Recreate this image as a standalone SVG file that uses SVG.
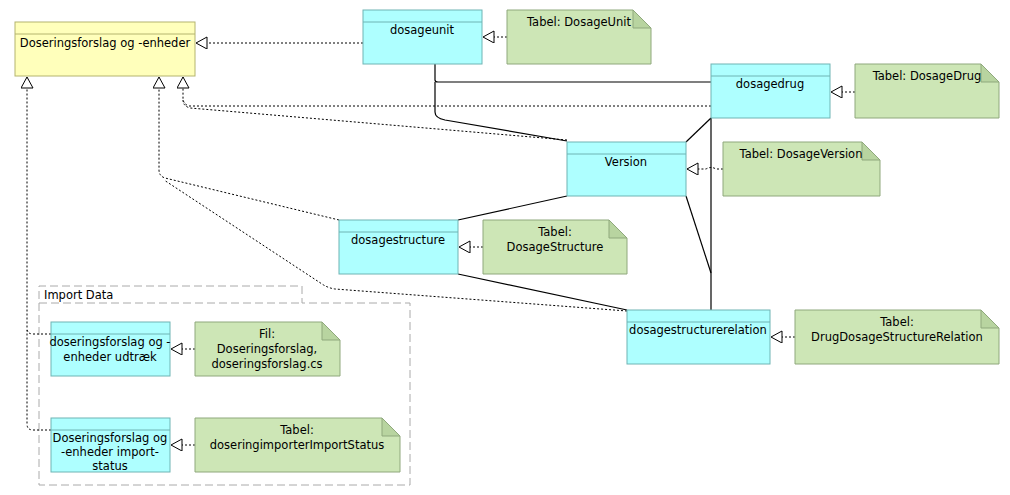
<svg xmlns="http://www.w3.org/2000/svg" width="1010" height="495" viewBox="0 0 1010 495">
<style>
text{font-family:"DejaVu Sans","Noto Sans",sans-serif;font-size:11.5px;fill:#000;text-anchor:middle}
.cls{fill:#aeffff;stroke:#6fb4b4;stroke-width:1}
.main{fill:#ffffbb;stroke:#b4b46e;stroke-width:1}
.note{fill:#cde6b6;stroke:#8fa87c;stroke-width:1}
.fold{fill:#b8d4a0;stroke:#8fa87c;stroke-width:1}
.d{fill:none;stroke:#000;stroke-dasharray:2,2;stroke-width:1}
.s{fill:none;stroke:#000;stroke-width:1.2}
</style>
<defs>
<marker id="tri" markerWidth="14" markerHeight="14" refX="12" refY="6" orient="auto" markerUnits="userSpaceOnUse">
<path d="M1,0 L12,6 L1,12 Z" fill="#fff" stroke="#000"/>
</marker>
</defs>
<rect width="1010" height="495" fill="#fff"/>
<g id="pkg">
<path d="M39,303 V485 H410 V303 H302 V286 H39 Z" fill="none" stroke="#aaa" stroke-dasharray="8,4"/>
<line x1="39" y1="303" x2="302" y2="303" stroke="#aaa" stroke-dasharray="8,4"/>
<text x="44" y="299" style="text-anchor:start">Import Data</text>
</g>
<g id="connectors">
<path class="d" d="M363,43 H196" marker-end="url(#tri)"/>
<path class="d" d="M507,37 H483" marker-end="url(#tri)"/>
<path class="d" d="M855,92 H831" marker-end="url(#tri)"/>
<path class="d" d="M723,169 H716 Q711,166 706,169 H687" marker-end="url(#tri)"/>
<path class="d" d="M483,247 H459" marker-end="url(#tri)"/>
<path class="d" d="M795,337 H771" marker-end="url(#tri)"/>
<path class="d" d="M195,349 H171" marker-end="url(#tri)"/>
<path class="d" d="M195,445 H171" marker-end="url(#tri)"/>
<path class="d" d="M711,106 H189 Q183,104 183,98 V77" marker-end="url(#tri)"/>
<path class="d" d="M567,140 L190,108 Q183,106 183,100"/>
<path class="d" d="M339,220 L165,178 Q159,176 159,170 V77" marker-end="url(#tri)"/>
<path class="d" d="M627,311 L335,289 Q328,288 322,284 L164,180"/>
<path class="d" d="M51,334 H33 Q27,334 27,328 V77" marker-end="url(#tri)"/>
<path class="d" d="M51,430 H33 Q27,430 27,424 V330"/>
<path class="s" d="M435,64 V80 Q435,82 438,82 H711"/>
<path class="s" d="M435,82 V112 Q435,118 445,120 L567,141"/>
<path class="s" d="M711,118 L686,142"/>
<path class="s" d="M711,118 V310"/>
<path class="s" d="M686,196 L711,273"/>
<path class="s" d="M458,220 L567,196"/>
<path class="s" d="M458,274 L627,310"/>
</g>
<g id="main"><rect class="main" x="15" y="22" width="180" height="54"/><line x1="15" y1="34" x2="195" y2="34" stroke="#b4b46e"/><text x="105" y="47">Doseringsforslag og -enheder</text></g>
<g id="dosageunit"><rect class="cls" x="363" y="10" width="119" height="54"/><line x1="363" y1="22" x2="482" y2="22" stroke="#6fb4b4"/><text x="422" y="34">dosageunit</text></g>
<g id="dosagedrug"><rect class="cls" x="711" y="64" width="119" height="54"/><line x1="711" y1="76" x2="830" y2="76" stroke="#6fb4b4"/><text x="770" y="88">dosagedrug</text></g>
<g id="version"><rect class="cls" x="567" y="142" width="119" height="54"/><line x1="567" y1="154" x2="686" y2="154" stroke="#6fb4b4"/><text x="626" y="166">Version</text></g>
<g id="dosagestructure"><rect class="cls" x="339" y="220" width="119" height="54"/><line x1="339" y1="232" x2="458" y2="232" stroke="#6fb4b4"/><text x="398" y="244">dosagestructure</text></g>
<g id="relation"><rect class="cls" x="627" y="310" width="143" height="54"/><line x1="627" y1="322" x2="770" y2="322" stroke="#6fb4b4"/><text x="698" y="334">dosagestructurerelation</text></g>
<g id="udtraek"><rect class="cls" x="51" y="322" width="119" height="54"/><line x1="51" y1="334" x2="170" y2="334" stroke="#6fb4b4"/><text x="110" y="346">doseringsforslag og -</text><text x="110" y="361">enheder udtræk</text></g>
<g id="importstatus"><rect class="cls" x="51" y="418" width="119" height="54"/><line x1="51" y1="430" x2="170" y2="430" stroke="#6fb4b4"/><text x="110" y="442">Doseringsforslag og</text><text x="110" y="456">-enheder import-</text><text x="110" y="470">status</text></g>
<g id="n-unit"><path class="note" d="M507,10 H633 L651,28 V64 H507 Z"/><path class="fold" d="M633,10 V28 H651 Z"/><text x="579" y="26">Tabel: DosageUnit</text></g>
<g id="n-drug"><path class="note" d="M855,64 H981 L999,82 V118 H855 Z"/><path class="fold" d="M981,64 V82 H999 Z"/><text x="927" y="80">Tabel: DosageDrug</text></g>
<g id="n-version"><path class="note" d="M723,142 H862 L880,160 V196 H723 Z"/><path class="fold" d="M862,142 V160 H880 Z"/><text x="801" y="158">Tabel: DosageVersion</text></g>
<g id="n-structure"><path class="note" d="M483,220 H609 L627,238 V274 H483 Z"/><path class="fold" d="M609,220 V238 H627 Z"/><text x="555" y="236">Tabel:</text><text x="555" y="251">DosageStructure</text></g>
<g id="n-relation"><path class="note" d="M795,310 H981 L999,328 V364 H795 Z"/><path class="fold" d="M981,310 V328 H999 Z"/><text x="897" y="326">Tabel:</text><text x="897" y="341">DrugDosageStructureRelation</text></g>
<g id="n-fil"><path class="note" d="M195,322 H322 L340,340 V376 H195 Z"/><path class="fold" d="M322,322 V340 H340 Z"/><text x="267" y="338">Fil:</text><text x="267" y="353">Doseringsforslag,</text><text x="267" y="368">doseringsforslag.cs</text></g>
<g id="n-import"><path class="note" d="M195,418 H382 L400,436 V472 H195 Z"/><path class="fold" d="M382,418 V436 H400 Z"/><text x="297" y="434">Tabel:</text><text x="297" y="449">doseringimporterImportStatus</text></g>
</svg>
